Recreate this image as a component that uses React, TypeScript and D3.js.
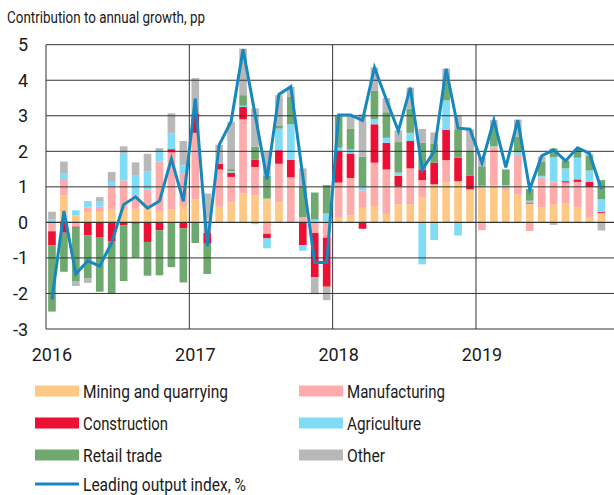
import React from 'react';
import * as d3 from 'd3';

const years = [2016, 2017, 2018, 2019];
const months = years.flatMap((y) => d3.range(1, 13).map((m) => `${y}-${String(m).padStart(2, '0')}`));

const mining = [0, 0.76, 0.2, 0.29, 0.3, 0.38, 0.38, 0.38, 0.4, 0.3, 0.37, 0.46,
  0.65, 0.11, 0.44, 0.56, 0.82, 0.76, 0.67, 0.57, 0, 0, 0.03, 0.03,
  0.15, 0.2, 0.41, 0.46, 0.24, 0.51, 0.51, 0.71, 1.07, 1.12, 1.16, 0.93,
  1.0, 1.05, 0.91, 0.79, 0.53, 0.43, 0.51, 0.53, 0.43, 0.15, 0.24];
const manufacturing = [-0.25, 0.46, -0.12, 0.13, 0.14, 0.62, 0.8, 0.37, 0.53, 1.41, 1.6, 0.92,
  1.87, -0.3, 1.05, 0.72, 2.08, 0.8, -0.32, 1.08, 1.27, 0.15, -0.3, -0.43,
  0.97, 1.05, 0.49, 1.22, 1.25, 0.5, 1.01, 0.48, 0, 0.63, 0, 0,
  -0.22, 1.05, 0.08, 1.11, -0.24, 0.83, 0.64, 0.59, 0.71, 0.85, 0.03];
const construction = [-0.4, -0.29, -0.03, -0.36, -0.43, -0.54, -0.08, -0.04, -0.55, -0.22, 0.09, -0.17,
  0.54, -0.3, 0.16, 0.12, 0.35, 0.2, -0.13, 0.38, 0.49, -0.64, -1.24, -1.38,
  0.87, 0.69, -0.18, 1.08, 0.75, 0.3, 0.77, 0.3, 0.61, 0.85, 0.66, 0.39,
  0, 0, 0, 0, 0.03, 0, 0, 0.04, 0.07, 0.14, 0.03];
const agriculture = [0.08, 0.15, 0.14, 0.18, 0.16, 0.14, 0.77, 0.58, 0.5, 0.28, 0.45, 0.22,
  0, 0, 0, 0.04, 0.03, -0.05, -0.28, 0.61, 1.0, -0.16, 0.05, 0.22,
  0.11, 0.11, 0.12, 0.14, 0.14, 0.09, 0.23, -1.18, -0.5, 0.83, -0.37, 0,
  0.03, 0.04, 0.06, 0.07, 0.05, 0.05, 0.68, 0.36, 0.61, 0.32, 0.35];
const retail = [-1.86, -1.1, -1.5, -1.21, -1.52, -1.46, -1.57, -0.95, -0.95, -1.27, -1.26, -1.52,
  -0.58, -0.85, 0, 0.06, 0.3, 0.37, 0.65, 0.09, 0.77, 0.85, 0.76, 0.8,
  0.89, 0.58, 0.83, 0.8, 0.72, 0.86, 0.68, 0.75, 0.54, 0.52, 0.8, 0.69,
  0.53, 0.55, 0.44, 0.45, 0.33, 0.39, 0.25, 0.22, 0.23, 0.42, 0.54];
const other = [0.22, 0.34, -0.14, -0.13, 0.11, 0.28, 0.19, 0.36, 0.5, 0.1, 0.56, 0.69,
  1.0, 0.7, 0.53, 1.33, 1.31, 1.08, 0.66, 0.85, 0.28, 0.52, -0.48, -0.38,
  0.03, 0.36, 1.19, 0.66, 0.4, 0.33, 0.59, 0.39, 0.31, 0.38, 0.4, 0.61,
  0.27, 0.19, 0, 0.47, 0, 0.15, -0.07, 0, 0, 0.05, -0.23];
const leading = [-2.17, 0.32, -1.45, -1.08, -1.23, -0.57, 0.5, 0.72, 0.4, 0.6, 1.79, 0.59,
  3.48, -0.67, 2.18, 2.84, 4.87, 3.05, 1.21, 3.6, 3.82, 1.3, -1.13, -1.13,
  3.02, 3.02, 2.87, 4.36, 3.45, 2.57, 3.79, 1.48, 2.0, 4.32, 2.65, 2.62,
  1.68, 2.88, 1.55, 2.88, 0.93, 1.87, 2.04, 1.73, 2.1, 1.94, 0.93];

const seriesKeys = ['mining', 'manufacturing', 'construction', 'agriculture', 'retail', 'other'];
const seriesLabels = ['Mining and quarrying', 'Manufacturing', 'Construction', 'Agriculture', 'Retail trade', 'Other'];
const lineLabel = 'Leading output index, %';
const yTicks = [-3, -2, -1, 0, 1, 2, 3, 4, 5];
const title = 'Contribution to annual growth, pp';

const colors = ['#FFC985', '#FFABAB', '#EE1034', '#80DCF6', '#6FA96F', '#B8B8B8'];
const lineColor = '#1688BE';
const FONT = 'Roboto, "Open Sans", sans-serif';

export default function App() {
  const W = 614, H = 495;
  const left = 46, right = 619.3, top = 44.7, bottom = 329;
  const x = d3.scaleBand<string>().domain(months).range([left, right]).paddingInner(0.36).paddingOuter(0.18);
  const step = (right - left) / months.length;
  const y = d3.scaleLinear().domain([-3, 5]).range([bottom, top]);

  const rows = mining.map((_, i) => ({
    month: months[i],
    mining: mining[i],
    manufacturing: manufacturing[i],
    construction: construction[i],
    agriculture: agriculture[i],
    retail: retail[i],
    other: other[i],
  }));
  const stacked = d3.stack<any>().keys(seriesKeys).offset(d3.stackOffsetDiverging)(rows);

  const lineGen = d3.line<number>()
    .x((_, i) => (x(months[i]) as number) + x.bandwidth() / 2)
    .y((d) => y(d));

  const legendCols = [35, 299];
  const legendRows = [391, 423, 455];
  const legendWidths = [145, 98, 85, 74, 79, 38];

  return (
    <svg width={W} height={H} style={{ position: 'absolute', left: 0, top: 0 }} fontFamily={FONT}>
      <rect width={W} height={H} fill="#fff" />
      <text x={7} y={17} fontSize={16} dominantBaseline="central" fill="#1a1a1a" textLength={198} lengthAdjust="spacingAndGlyphs">{title}</text>

      {stacked.map((s, si) => (
        <g key={seriesKeys[si]} fill={colors[si]}>
          {s.map((d, i) => {
            const y0 = y(d[0]), y1 = y(d[1]);
            const h = Math.abs(y0 - y1);
            if (h < 0.01) return null;
            return <rect key={i} x={x(d.data.month)} width={x.bandwidth()} y={Math.min(y0, y1)} height={h} />;
          })}
        </g>
      ))}

      {yTicks.map((t) => (
        <line key={t} x1={left} x2={right} y1={y(t)} y2={y(t)} stroke="#333" strokeWidth={t === 0 ? 1.3 : 1} />
      ))}
      {years.slice(1).map((yr) => {
        const xx = x(`${yr}-01`) as number - (step - x.bandwidth()) / 2;
        return <line key={yr} x1={xx} x2={xx} y1={top} y2={bottom} stroke="#333" strokeWidth={1} />;
      })}
      <line x1={left} x2={left} y1={top} y2={bottom} stroke="#333" strokeWidth={1} />

      {yTicks.map((t) => (
        <text key={t} x={28} y={y(t)} fontSize={18} textAnchor="end" dominantBaseline="central" fill="#1a1a1a">{t}</text>
      ))}
      {years.map((yr) => (
        <text key={yr} x={(x(`${yr}-01`) as number) + x.bandwidth() / 2} y={354} fontSize={18} textAnchor="middle" dominantBaseline="central" fill="#1a1a1a">{yr}</text>
      ))}

      <path d={lineGen(leading) || ''} fill="none" stroke={lineColor} strokeWidth={3} strokeLinejoin="miter" />

      {seriesLabels.map((lab, i) => {
        const cx = legendCols[i % 2];
        const cy = legendRows[Math.floor(i / 2)];
        return (
          <g key={lab}>
            <rect x={cx} y={cy - 5.5} width={44} height={11} fill={colors[i]} />
            <text x={cx + 48} y={cy + 1} fontSize={18.5} dominantBaseline="central" fill="#1a1a1a" textLength={legendWidths[i]} lengthAdjust="spacingAndGlyphs">{lab}</text>
          </g>
        );
      })}
      <line x1={35} x2={79} y1={484} y2={484} stroke={lineColor} strokeWidth={3} />
      <text x={83} y={484} fontSize={18} dominantBaseline="central" fill="#1a1a1a" textLength={163} lengthAdjust="spacingAndGlyphs">{lineLabel}</text>
    </svg>
  );
}
